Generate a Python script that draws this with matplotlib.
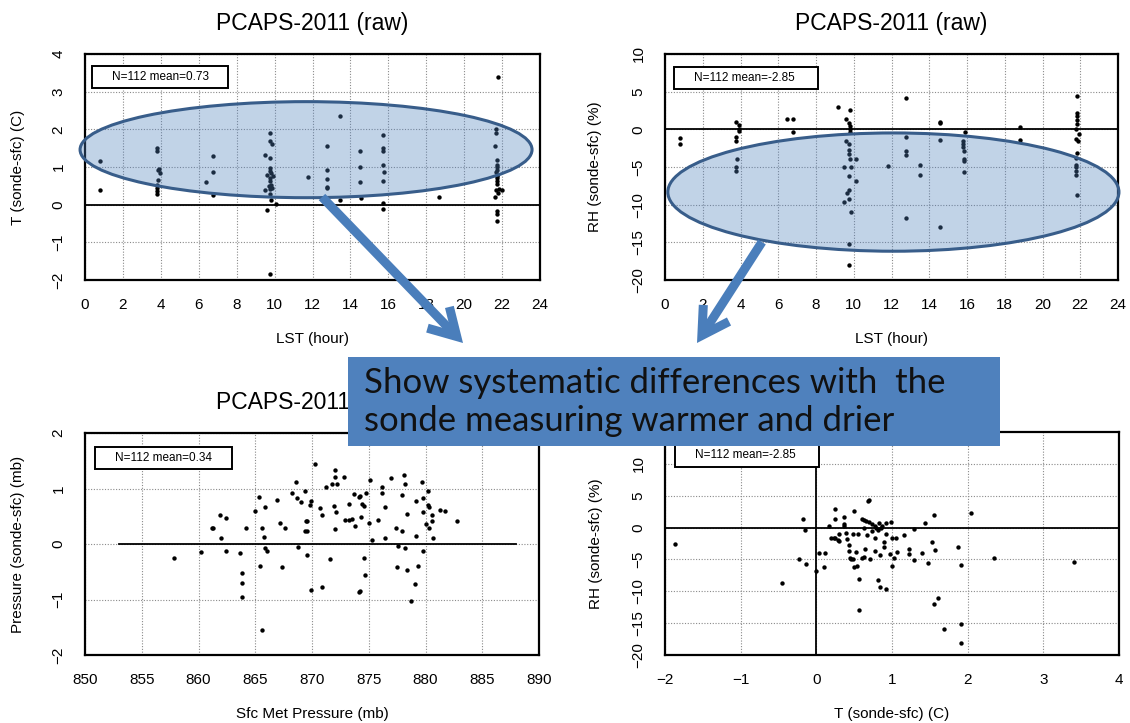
import matplotlib
matplotlib.use("Agg")
import matplotlib.pyplot as plt
from matplotlib.patches import Ellipse, Rectangle, FancyArrowPatch

plt.rcParams["font.family"] = ["Liberation Sans", "DejaVu Sans"]

# ---- data ----
# top left: T difference vs local hour
tl_hour = [0.77, 0.77,
           3.8, 3.8, 3.85, 3.93, 3.85, 3.8, 3.8, 3.8, 3.8, 3.9,
           6.4, 6.77, 6.77, 6.77,
           9.75, 9.75, 9.85, 9.5, 9.75, 9.75, 9.75, 9.6, 9.9, 9.75, 9.75, 9.8, 9.75,
           9.5, 9.75, 9.8, 10.07, 9.58, 9.75, 9.8, 9.7, 9.85,
           11.77,
           12.77, 12.77, 12.77, 12.77, 12.77,
           13.44, 13.44,
           14.5, 14.5, 14.5, 14.58,
           15.72, 15.72, 15.72, 15.72, 15.75, 15.72, 15.72, 15.72,
           18.67,
           21.77, 21.7, 21.7, 21.65, 21.75, 21.75, 21.75, 21.75, 21.75, 21.75, 21.75,
           21.75, 21.7, 21.85, 21.98, 21.65, 21.75, 21.75, 21.75, 21.8, 21.75, 21.7]
tl_dt = [1.17, 0.39,
         1.5, 1.42, 0.93, 0.84, 0.66, 0.53, 0.44, 0.35, 0.29, 0.95,
         0.6, 1.28, 0.86, 0.25,
         1.9, 1.68, 1.6, 1.31, 1.24, 0.97, 0.9, 0.8, 0.75, 0.7, 0.62, 0.53, 0.42,
         0.38, 0.27, 0.13, 0.02, -0.15, -1.84, 0.85, 0.5, 0.45,
         0.73,
         1.55, 0.91, 0.69, 0.46, 0.43,
         2.35, 0.13,
         1.42, 0.99, 0.59, 0.18,
         1.86, 1.5, 1.42, 1.06, 0.86, 0.64, 0.04, -0.11,
         0.2,
         3.39, 2.0, 1.9, 1.55, 1.19, 1.06, 1.0, 0.93, 0.8, 0.7, 0.62,
         0.55, 0.4, 0.42, 0.38, 0.2, -0.18, -0.24, -0.44, 0.3, 0.75, 0.88]

# top right: RH difference vs local hour
tr_hour = [0.78, 0.78,
           3.74, 3.9, 3.9, 3.9, 3.74, 3.74, 3.8, 3.74, 3.74,
           6.45, 6.8, 6.8,
           9.18, 9.8, 9.6, 9.75, 9.8, 9.8, 9.8, 9.6, 9.75, 9.75, 9.75, 9.8, 10.1,
           9.5, 9.85, 9.75, 10.1, 9.75, 9.65, 9.5, 9.75, 9.85, 9.75, 9.75,
           11.8,
           12.76, 12.76, 12.76, 12.76, 12.76,
           13.5, 13.5,
           14.55, 14.55, 14.55, 14.55,
           15.9, 15.8, 15.8, 15.8, 15.84, 15.84, 15.84, 15.84,
           18.8, 18.8,
           21.83, 21.83, 21.83, 21.83, 21.83, 21.75, 21.95, 21.75, 21.87, 21.83,
           21.75, 21.75, 21.75, 21.8, 21.8, 21.83]
tr_drh = [-1.1, -2.0,
          1.03, 0.54, 0.1, -0.2, -1.03, -1.56, -3.9, -5.0, -5.5,
          1.34, 1.34, -0.3,
          3.0, 2.6, 1.34, 0.9, 0.5, 0.0, -0.4, -1.56, -1.9, -2.7, -3.3, -4.0, -3.9,
          -5.0, -5.0, -6.2, -6.8, -8.0, -8.4, -9.6, -9.2, -11.0, -15.2, -18.0,
          -4.9,
          4.1, -1.0, -2.9, -3.4, -11.8,
          -4.7, -6.0,
          0.8, 1.0, -1.47, -12.9,
          -0.3, -1.6, -2.0, -2.4, -2.9, -3.9, -4.2, -5.7,
          0.3, -1.4,
          4.46, 2.2, 1.8, 1.3, 0.7, 0.0, -0.6, -1.25, -1.5, -3.1,
          -3.8, -4.7, -5.0, -5.5, -6.0, -8.7]

# bottom left: pressure difference vs surface pressure
bl_pres = [857.8, 860.2, 861.2, 861.3, 861.9, 862.0, 862.4, 862.4, 863.7, 863.8,
           863.8, 863.8, 864.2, 865.0, 865.3, 865.4, 865.6, 865.8, 865.9, 865.9,
           866.0, 865.6, 866.9, 867.2, 867.4, 867.6, 868.2, 868.6, 868.7, 868.8,
           869.0, 869.4, 869.4, 869.6, 869.5, 869.6, 869.6, 869.8, 869.9, 869.9,
           870.3, 870.7, 870.9, 870.9, 871.2, 871.6, 871.8, 872.2, 872.0, 872.0,
           871.9, 872.1, 872.0, 872.8, 872.9, 873.3, 873.5, 873.3, 873.7, 873.8,
           874.1, 874.2, 874.1, 874.2, 874.3, 874.4, 874.6, 874.6, 874.7, 874.8,
           875.0, 875.1, 875.3, 875.8, 876.2, 876.2, 876.4, 876.4, 877.0, 877.4,
           877.5, 877.6, 877.9, 877.9, 878.1, 878.2, 878.2, 878.4, 878.4, 878.7,
           879.1, 879.2, 879.3, 879.2, 879.7, 879.8, 879.8, 879.8, 880.0, 880.3,
           880.2, 880.2, 880.3, 880.6, 880.6, 880.7, 881.3, 881.7, 882.8]
bl_dp = [-0.25, -0.15, 0.28, 0.28, 0.52, 0.1, 0.46, -0.12, -0.16, -0.53,
         -0.71, -0.96, 0.29, 0.59, 0.85, -0.39, 0.28, 0.13, 0.66, -0.08,
         -0.12, -1.55, 0.79, 0.37, -0.42, 0.28, 0.91, 1.12, 0.83, -0.06,
         0.76, 0.95, 0.24, 0.24, 0.42, 0.42, -0.2, 0.70, 0.78, -0.83,
         1.45, 0.64, 0.52, -0.77, 1.03, -0.27, 1.09, 1.09, 1.33, 1.21,
         0.68, 0.57, 0.27, 1.21, 0.43, 0.43, 0.45, 0.72, 0.9, 0.32,
         -0.87, -0.84, 0.85, 0.87, 0.48, 0.72, 0.69, -0.25, -0.55, 0.92,
         0.38, 1.16, 0.07, 0.44, 1.02, 0.91, 0.67, 0.1, 1.19, 0.28,
         -0.41, -0.03, 0.89, 0.24, 1.25, 1.09, -0.08, -0.47, 0.54, -1.02,
         -0.72, 0.15, -0.40, 0.77, 1.12, 0.83, 0.58, -0.12, 0.36, 0.28,
         0.95, 0.71, 0.67, 0.41, 0.52, 0.11, 0.61, 0.59, 0.42]
bl_zero_span = [853, 888]

# bottom right: RH difference vs T difference
br_dt = [-1.87, -0.46, -0.23, -0.17, -0.15, -0.13, 0.0, 0.03, 0.12, 0.1,
         0.17, 0.2, 0.23, 0.25, 0.25, 0.25, 0.28, 0.3, 0.3, 0.36,
         0.37, 0.37, 0.39, 0.41, 0.43, 0.43, 0.44, 0.46, 0.48, 0.49,
         0.55, 0.5, 0.5, 0.54, 0.53, 0.57, 0.57, 0.6, 0.63, 0.6,
         0.63, 0.63, 0.64, 0.66, 0.69, 0.67, 0.68, 0.7, 0.71, 0.74,
         0.74, 0.77, 0.79, 0.81, 0.78, 0.78, 0.82, 0.83, 0.84, 0.84,
         0.86, 0.87, 0.89, 0.9, 0.92, 0.92, 0.92, 0.97, 0.99, 1.0,
         1.0, 1.03, 1.06, 1.05, 1.16, 1.22, 1.22, 1.29, 1.29, 1.4,
         1.44, 1.48, 1.53, 1.55, 1.57, 1.55, 1.61, 1.69, 1.87, 1.91,
         1.91, 1.91, 2.05, 2.35, 3.41]
br_drh = [-2.6, -8.75, -4.95, 1.3, -0.42, -5.7, -6.8, -4.06, -4.06, -6.15,
          0.26, -1.6, -1.6, -1.6, 1.35, 2.86, -2.0, -1.0, -2.1, 1.7,
          0.5, 0.26, -0.8, -1.8, -2.7, -3.6, -4.7, -4.95, -4.95, -1.04,
          -1.04, 2.6, -6.25, -6.0, -3.9, -8.0, -12.9, 1.4, 1.15, -4.8,
          -4.6, -0.1, -3.4, 1.04, 0.94, -1.15, 4.2, 4.4, -4.95, 0.52,
          -0.5, 0.26, -0.1, -0.4, -1.6, -3.75, -8.3, 0.7, -4.3, -9.4,
          0.0, 0.26, -2.2, -3.0, -1.04, -9.6, 0.78, -4.2, 0.94, -1.67,
          -6.0, -4.8, -3.9, -1.7, -1.15, -3.4, -4.2, -5.05, -0.3, -4.0,
          0.68, -5.5, -2.2, 1.9, -3.5, -12.0, -11.0, -15.9, -3.0, -5.9,
          -15.2, -18.1, 2.24, -4.74, -5.36]

titles = "PCAPS-2011 (raw)"
tl_note = "N=112 mean=0.73"
tr_note = "N=112 mean=-2.85"
bl_note = "N=112 mean=0.34"
br_note = "N=112 mean=-2.85"
message = "Show systematic differences with  the\nsonde measuring warmer and drier"

W, H = 1130, 723
BLUE = "#4f81bd"
EDGE = "#385d8a"


def rect(l, t, r, b):
    return [l / W, 1 - b / H, (r - l) / W, (b - t) / H]


def style(ax, xt, yt, xlab, ylab, ylab_x):
    ax.set_xticks(xt)
    ax.set_yticks(yt)
    ax.grid(True, color="#8a8a8a", ls=(0, (1, 1.5)), lw=0.8)
    ax.set_axisbelow(True)
    for s in ax.spines.values():
        s.set_linewidth(1.6)
    ax.tick_params(length=0, labelsize=11)
    ax.tick_params(axis="x", pad=13)
    ax.tick_params(axis="y", pad=14, labelrotation=90)
    for t in ax.get_yticklabels():
        t.set_va("center")
    ax.set_xlabel(xlab, fontsize=11)
    ax.set_ylabel(ylab, fontsize=11)
    ax.xaxis.set_label_coords(0.5, -0.23)
    ax.yaxis.set_label_coords(ylab_x, 0.5)
    ax.set_title(titles, fontsize=16.5, pad=17)


fig = plt.figure(figsize=(W / 100, H / 100), dpi=100)

ax1 = fig.add_axes(rect(85, 54, 540, 280))
ax1.scatter(tl_hour, tl_dt, s=10, c="black", linewidths=0, zorder=3)
ax1.axhline(0, color="black", lw=1.3, zorder=2)
ax1.set_xlim(0, 24)
ax1.set_ylim(-2, 4)
style(ax1, range(0, 25, 2), range(-2, 5), "LST (hour)", "T (sonde-sfc) (C)", -0.132)
ax1.add_patch(Ellipse((11.66, 1.46), 23.84, 2.55, facecolor=(0.31, 0.506, 0.741, 0.35),
                      edgecolor=EDGE, lw=2.2, clip_on=False, zorder=4))

ax2 = fig.add_axes(rect(665, 54, 1118, 280))
ax2.scatter(tr_hour, tr_drh, s=10, c="black", linewidths=0, zorder=3)
ax2.axhline(0, color="black", lw=1.3, zorder=2)
ax2.set_xlim(0, 24)
ax2.set_ylim(-20, 10)
style(ax2, range(0, 25, 2), range(-20, 11, 5), "LST (hour)", "RH (sonde-sfc) (%)", -0.139)
ax2.add_patch(Ellipse((12.1, -8.33), 23.9, 15.7, facecolor=(0.31, 0.506, 0.741, 0.35),
                      edgecolor=EDGE, lw=2.2, clip_on=False, zorder=4))

ax3 = fig.add_axes(rect(85, 433, 539, 655))
ax3.scatter(bl_pres, bl_dp, s=10, c="black", linewidths=0, zorder=3)
ax3.plot(bl_zero_span, [0, 0], color="black", lw=1.3, zorder=2)
ax3.set_xlim(850, 890)
ax3.set_ylim(-2, 2)
style(ax3, range(850, 891, 5), range(-2, 3), "Sfc Met Pressure (mb)",
      "Pressure (sonde-sfc) (mb)", -0.132)
ax3.xaxis.set_label_coords(0.5, -0.234)

ax4 = fig.add_axes(rect(665, 432, 1119, 655))
ax4.scatter(br_dt, br_drh, s=10, c="black", linewidths=0, zorder=3)
ax4.axhline(0, color="black", lw=1.3, zorder=2)
ax4.axvline(0, color="black", lw=1.3, zorder=2)
ax4.set_xlim(-2, 4)
ax4.set_ylim(-20, 15)
style(ax4, range(-2, 5), range(-20, 11, 5), "T (sonde-sfc) (C)", "RH (sonde-sfc) (%)", -0.137)
ax4.xaxis.set_label_coords(0.5, -0.234)

# overlay in pixel coordinates for notes, arrows and the message box
ov = fig.add_axes([0, 0, 1, 1], zorder=10)
ov.set_xlim(0, W)
ov.set_ylim(H, 0)
ov.axis("off")
ov.patch.set_alpha(0)

for (x0, y0, x1, y1), note in [((92, 66, 228, 88), tl_note), ((674, 67, 818, 89), tr_note),
                               ((95, 447, 232, 469), bl_note), ((675, 444, 819, 467), br_note)]:
    ov.add_patch(Rectangle((x0, y0), x1 - x0, y1 - y0, facecolor="white",
                           edgecolor="black", lw=1.4, zorder=1))
    ov.text(x0 + 20, (y0 + y1) / 2, note, fontsize=8.5, va="center", ha="left", zorder=2)

for tail, tip in [((322, 197), (463, 343)), ((762, 242), (697, 343))]:
    ov.add_patch(FancyArrowPatch(tail, tip, arrowstyle="->,head_length=19,head_width=11",
                                 mutation_scale=1, lw=6.5, color="#4a7ebb",
                                 shrinkA=0, shrinkB=0, capstyle="butt",
                                 joinstyle="miter", zorder=3))

ov.add_patch(Rectangle((348, 357), 652, 89, facecolor=BLUE, edgecolor="none", zorder=5))
ov.text(364, 402, message, fontsize=25, family=["Lato", "DejaVu Sans"], color="#111111",
        va="center", ha="left", linespacing=1.2, zorder=6)

fig.savefig("out.png", dpi=100)
